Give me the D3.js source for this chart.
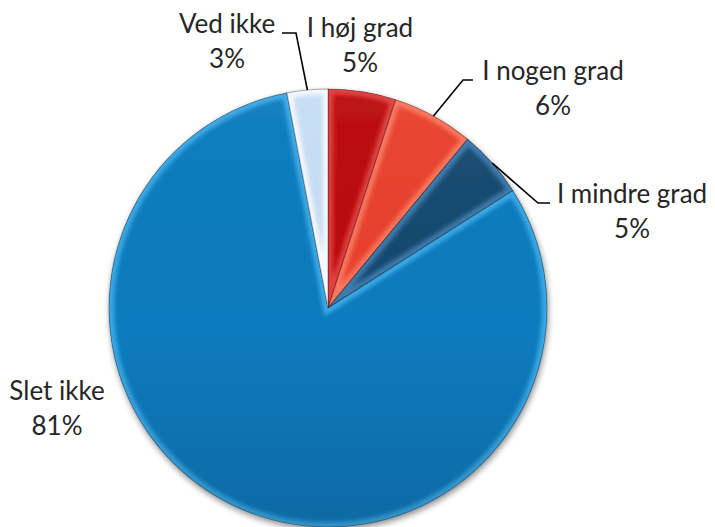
<!DOCTYPE html>
<html><head><meta charset="utf-8">
<script src="https://cdn.jsdelivr.net/npm/d3@7/dist/d3.min.js"></script>
<style>html,body{margin:0;padding:0;background:#fff;}svg{display:block;}</style>
</head><body>
<script>
const categories = ["I høj grad", "I nogen grad", "I mindre grad", "Slet ikke", "Ved ikke"];
const values = [5, 6, 5, 81, 3];
const labels = ["5%", "6%", "5%", "81%", "3%"];
const colors = ["#BA0A0A", "#E8412C", "#164A70", "#0A7BBE", "#C6DEF6"];
const highlights = ["#E84848", "#FF8066", "#4484B8", "#45B2EE", "#FFFFFF"];

const W = 715, H = 527;
const cx = 328, cy = 308, R = 219;
const svg = d3.select("body").append("svg").attr("width", W).attr("height", H);
const defs = svg.append("defs");

const sh = defs.append("filter").attr("id", "shadow").attr("x", "-20%").attr("y", "-20%").attr("width", "140%").attr("height", "140%");
sh.append("feGaussianBlur").attr("in", "SourceAlpha").attr("stdDeviation", 3);
sh.append("feOffset").attr("dx", 1).attr("dy", 3).attr("result", "ob");
sh.append("feComponentTransfer").append("feFuncA").attr("type", "linear").attr("slope", 0.45);
const m = sh.append("feMerge"); m.append("feMergeNode"); m.append("feMergeNode").attr("in", "SourceGraphic");

const bl = defs.append("filter").attr("id", "blur");
bl.append("feGaussianBlur").attr("stdDeviation", 2.2);

const shade = defs.append("linearGradient").attr("id", "shade").attr("x1", 0).attr("y1", 0).attr("x2", 0).attr("y2", 1);
shade.append("stop").attr("offset", "0%").attr("stop-color", "#fff").attr("stop-opacity", 0.04);
shade.append("stop").attr("offset", "55%").attr("stop-color", "#000").attr("stop-opacity", 0.0);
shade.append("stop").attr("offset", "100%").attr("stop-color", "#000").attr("stop-opacity", 0.14);

const pie = d3.pie().sort(null).value(d => d)(values);
const arc = d3.arc().innerRadius(0).outerRadius(R);
const g = svg.append("g").attr("transform", `translate(${cx},${cy})`);
const pg = g.append("g").attr("filter", "url(#shadow)");

pie.forEach((p, i) => {
  const id = "clip" + i;
  defs.append("clipPath").attr("id", id).append("path").attr("d", arc(p));
  const sg = pg.append("g");
  sg.append("path").attr("d", arc(p)).attr("fill", colors[i]);
  sg.append("path").attr("d", arc(p)).attr("fill", "none")
    .attr("stroke", highlights[i]).attr("stroke-width", 10).attr("stroke-opacity", 0.85)
    .attr("filter", "url(#blur)")
    .attr("clip-path", `url(#${id})`);
  sg.append("path").attr("d", arc(p)).attr("fill", "none")
    .attr("stroke", "#000").attr("stroke-opacity", 0.3).attr("stroke-width", 1.1);
});
pg.append("circle").attr("r", R).attr("fill", "url(#shade)");

const font = "Lato, 'Open Sans', sans-serif";
const lab = svg.append("g").attr("font-family", font).attr("font-size", 26).attr("fill", "#262626").attr("text-anchor", "middle");
const labelPos = [
  {x: 360, y: 37},
  {x: 553, y: 80},
  {x: 632, y: 203},
  {x: 57, y: 400},
  {x: 227, y: 33}
];
pie.forEach((p, i) => {
  const t = lab.append("text").attr("transform", `translate(${labelPos[i].x},${labelPos[i].y})`);
  t.append("tspan").attr("x", 0).attr("y", 0).text(categories[i]);
  t.append("tspan").attr("x", 0).attr("y", 35).text(labels[i]);
});

const leaders = [
  null,
  {elbow: [463, 80], end: [473, 80]},
  {elbow: [538, 203], end: [550, 203]},
  null,
  {elbow: [296, 33], end: [282, 33]}
];
pie.forEach((p, i) => {
  if (!leaders[i]) return;
  const a = (p.startAngle + p.endAngle) / 2;
  const sx = cx + R * Math.sin(a), sy = cy - R * Math.cos(a);
  svg.append("path")
    .attr("d", d3.line()([[sx, sy], leaders[i].elbow, leaders[i].end]))
    .attr("fill", "none").attr("stroke", "#000").attr("stroke-width", 1.6);
});
</script>
</body></html>
